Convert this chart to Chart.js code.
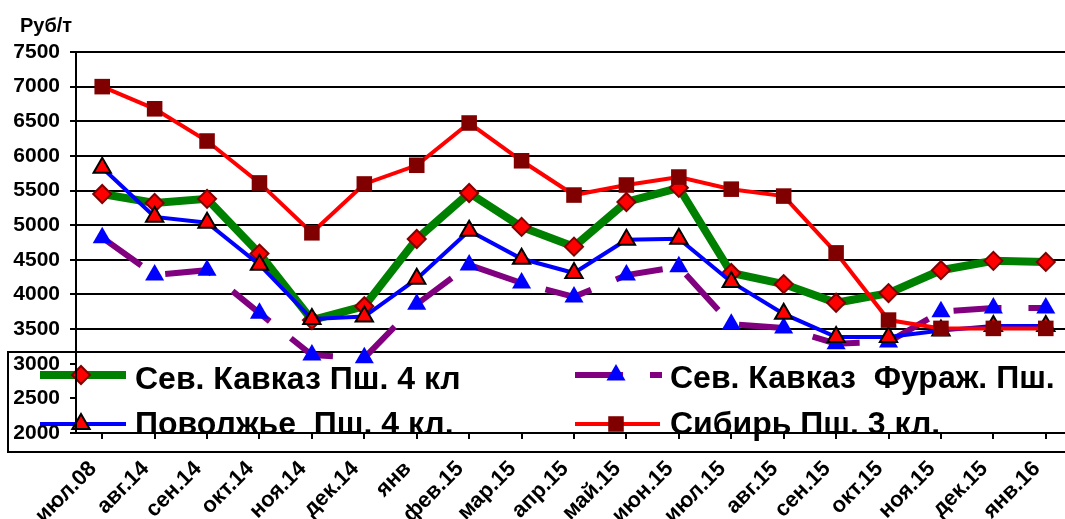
<!DOCTYPE html>
<html>
<head>
<meta charset="utf-8">
<script src="https://cdn.jsdelivr.net/npm/chart.js@4.4.1/dist/chart.umd.min.js"></script>
<style>
  html, body { margin: 0; background: #fff; overflow: hidden; }
  canvas { display: block; background: #fff; }
</style>
</head>
<body>
<canvas id="priceChart" width="1084" height="519"></canvas>
<script>
const months = ['июл.08', 'авг.14', 'сен.14', 'окт.14', 'ноя.14', 'дек.14', 'янв', 'фев.15', 'мар.15', 'апр.15',
    'май.15', 'июн.15', 'июл.15', 'авг.15', 'сен.15', 'окт.15', 'ноя.15', 'дек.15', 'янв.16']

const kavkaz4 = [5450, 5320, 5380, 4590, 3630, 3830, 4800, 5465, 4975, 4690, 5335, 5540, 4310, 4150, 3880, 4020, 4350, 4485, 4470]
const kavkazFurazh = [4820, 4280, 4350, 3730, 3125, 3085, 3860, 4425, 4165, 3965, 4280, 4400, 3570, 3515, 3290, 3315, 3750, 3805, 3805]
const povolzhe4 = [5830, 5120, 5035, 4430, 3645, 3680, 4225, 4920, 4515, 4310, 4790, 4805, 4180, 3720, 3385, 3385, 3480, 3545, 3545]
const sibir3 = [7000, 6680, 6215, 5610, 4890, 5595, 5865, 6475, 5930, 5435, 5580, 5695, 5520, 5420, 4600, 3630, 3510, 3510, 3510]

const yMin = 2000
const yMax = 7500
const yStep = 500

const fontFamily = '"Liberation Sans", Arial, sans-serif'
const legendFont = 'bold 32px ' + fontFamily

// legend sits on top of the lower part of the plot, like in the original
const boxLegend = {
    id: 'boxLegend',
    beforeDraw(chart) {
        const ctx = chart.ctx
        ctx.save()
        ctx.fillStyle = '#fff'
        ctx.fillRect(0, 0, chart.width, chart.height)

        ctx.font = 'bold 20px ' + fontFamily
        ctx.fillStyle = '#000'
        ctx.textBaseline = 'alphabetic'
        ctx.fillText('Руб/т', 20, 32)

        ctx.lineWidth = 2
        ctx.strokeStyle = '#000'
        ctx.fillStyle = '#fff'
        ctx.fillRect(8, 352, 1090, 100)
        ctx.strokeRect(8, 352, 1090, 100)

        const rows = [
            {ds: 0, x1: 40, x2: 126, y: 375, mx: 81, tx: 135, ty: 389},
            {ds: 1, x1: 575, x2: 662, y: 375, mx: 616, tx: 670, ty: 388},
            {ds: 2, x1: 40, x2: 126, y: 424, mx: 81, tx: 135, ty: 434},
            {ds: 3, x1: 575, x2: 660, y: 424, mx: 616, tx: 670, ty: 434},
        ]
        rows.forEach(r => {
            const d = chart.data.datasets[r.ds]
            ctx.save()
            ctx.strokeStyle = d.borderColor
            ctx.lineWidth = d.borderWidth
            ctx.setLineDash(d.borderDash || [])
            ctx.beginPath()
            ctx.moveTo(r.x1, r.y)
            ctx.lineTo(r.x2, r.y)
            ctx.stroke()
            ctx.restore()

            ctx.save()
            ctx.fillStyle = d.pointBackgroundColor
            ctx.strokeStyle = d.pointBorderColor
            ctx.lineWidth = d.pointBorderWidth
            Chart.helpers.drawPoint(ctx, {
                pointStyle: d.pointStyle,
                radius: d.pointRadius,
                borderWidth: d.pointBorderWidth,
                rotation: 0
            }, r.mx, r.y)
            ctx.restore()

            ctx.font = legendFont
            ctx.fillStyle = '#000'
            ctx.fillText(d.label, r.tx, r.ty)
        })
        ctx.restore()
    }
}

const priceChart = new Chart(document.getElementById('priceChart').getContext('2d'), {
    type: 'line',
    data: {
        labels: months,
        datasets: [
            {
                label: 'Сев. Кавказ Пш. 4 кл',
                data: kavkaz4,
                borderColor: '#008000',
                borderWidth: 8,
                pointStyle: 'rectRot',
                pointRadius: 9,
                pointBackgroundColor: '#ff0000',
                pointBorderColor: '#800000',
                pointBorderWidth: 2,
                order: 3
            },
            {
                label: 'Сев. Кавказ  Фураж. Пш.',
                data: kavkazFurazh,
                borderColor: '#800080',
                borderWidth: 6,
                borderDash: [48, 27],
                pointStyle: 'triangle',
                pointRadius: 11,
                pointBackgroundColor: '#0000ff',
                pointBorderColor: '#0000ff',
                pointBorderWidth: 0,
                order: 2
            },
            {
                label: 'Поволжье  Пш. 4 кл.',
                data: povolzhe4,
                borderColor: '#0000ff',
                borderWidth: 4,
                pointStyle: 'triangle',
                pointRadius: 10,
                pointBackgroundColor: '#ff0000',
                pointBorderColor: '#000000',
                pointBorderWidth: 2,
                order: 1
            },
            {
                label: 'Сибирь Пш. 3 кл.',
                data: sibir3,
                borderColor: '#ff0000',
                borderWidth: 4,
                pointStyle: 'rect',
                pointRadius: 11,
                pointBackgroundColor: '#800000',
                pointBorderColor: '#800000',
                pointBorderWidth: 0,
                order: 0
            }
        ]
    },
    options: {
        responsive: false,
        animation: false,
        devicePixelRatio: 1,
        layout: {
            padding: {top: 52, left: 0, right: 0, bottom: 0}
        },
        elements: {
            line: {tension: 0, fill: false}
        },
        scales: {
            x: {
                offset: true,
                afterFit: (scale) => {
                    scale.height = 86
                    scale.paddingRight = 0
                    scale.paddingLeft = 0
                },
                grid: {
                    display: true,
                    drawOnChartArea: false,
                    drawTicks: true,
                    tickLength: 6,
                    color: '#000',
                    lineWidth: 2
                },
                border: {display: true, color: '#000', width: 2},
                ticks: {
                    autoSkip: false,
                    minRotation: 45,
                    maxRotation: 45,
                    padding: 17,
                    labelOffset: -9,
                    color: '#000',
                    font: {family: fontFamily, size: 22, weight: 'bold'}
                }
            },
            y: {
                min: yMin,
                max: yMax,
                afterFit: (scale) => { scale.width = 76 },
                grid: {
                    color: (c) => (c.tick && (c.tick.value === 2500 || c.tick.value === 3000)) ? 'rgba(0,0,0,0)' : '#000',
                    tickColor: '#000',
                    lineWidth: 2,
                    tickLength: 6
                },
                border: {display: true, color: '#000', width: 2},
                ticks: {
                    stepSize: yStep,
                    padding: 10,
                    color: '#000',
                    callback: (value) => String(value),
                    font: {family: fontFamily, size: 21, weight: 'bold'}
                }
            }
        },
        plugins: {
            legend: {display: false},
            title: {display: false},
            tooltip: {enabled: false}
        }
    },
    plugins: [boxLegend]
})
</script>
</body>
</html>
